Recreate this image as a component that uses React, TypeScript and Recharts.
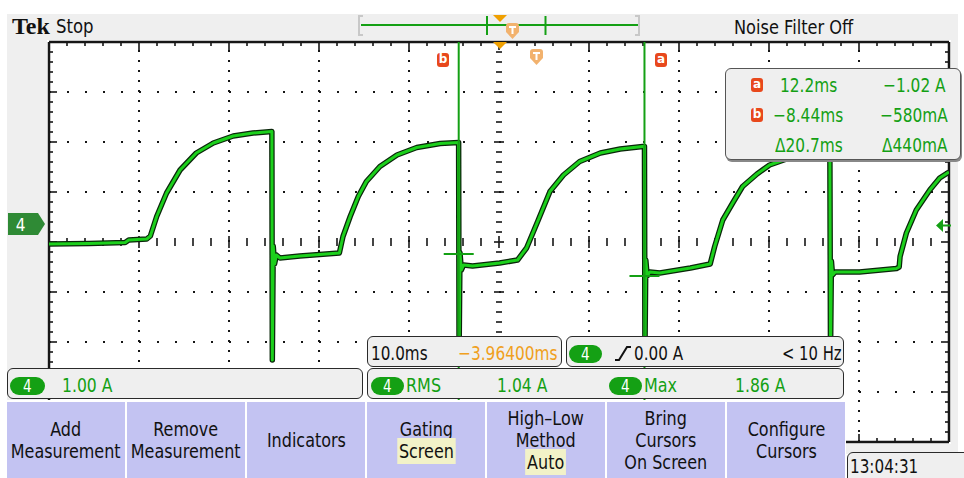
import React from 'react';
import { LineChart, Line, XAxis, YAxis, ReferenceLine } from 'recharts';

const FONT = "'DejaVu Sans', sans-serif";
const GREEN = '#14a014';
const TRACE = '#1cd01c';
const TRACE_EDGE = '#0a260a';
const INK = '#161616';
const PANEL = '#efefef';
const ORANGE = '#f0a000';
const PEACH = '#f2b26e';
const MARKER_RED = '#e8481c';
const MENU_BG = '#c3c3f2';

// scope settings
const MS_PER_DIV = 10;
const AMPS_PER_DIV = 1;
const H_POS_MS = -3.964; // time at screen centre, relative to trigger
const CH4_OFFSET_DIV = 0.34; // 0 A sits this far above the centre line
const H_DIVS = 10;
const V_DIVS = 8;
const SUB = 5;

// channel 4 trace: time (ms from trigger) and current (A)
const traceTime = [
  -53.96, -49.5, -45.5, -45.1, -43.1,
  -42.7, -42.0, -40.9, -39.4, -37.6, -35.7, -33.5, -31.3, -29.2,
  -29.15, -29.05, -28.9, -28.7, -28.3, -26.1, -21.7,
  -21.3, -20.5, -19.6, -18.7, -17.2, -15.3, -13.1, -10.5, -8.45,
  -8.4, -8.3, -8.15, -7.9, -6.9, -3.9, -1.9,
  -0.9, 0.4, 1.7, 3.2, 5.0, 7.3, 9.5, 12.0, 12.2,
  12.25, 12.35, 12.5, 12.8, 13.9, 17.3, 19.5,
  20.0, 20.9, 22.0, 23.1, 24.7, 26.1, 28.0, 30.0, 32.8,
  32.87, 32.97, 33.1, 33.4, 36.1, 40.2, 40.5,
  40.6, 41.3, 42.4, 43.9, 45.0, 46.04,
];
const traceAmps = [
  -0.38, -0.37, -0.35, -0.30, -0.28,
  -0.22, 0.17, 0.64, 1.10, 1.44, 1.64, 1.78, 1.84, 1.87,
  -2.70, -0.42, -0.78, -0.60, -0.66, -0.62, -0.56,
  -0.23, 0.17, 0.57, 0.87, 1.17, 1.40, 1.55, 1.63, 1.65,
  -2.60, -0.55, -0.90, -0.80, -0.82, -0.76, -0.70,
  -0.46, 0.10, 0.67, 1.00, 1.27, 1.44, 1.52, 1.57, 1.57,
  -2.60, -0.70, -1.02, -0.94, -0.96, -0.86, -0.78,
  -0.43, 0.10, 0.44, 0.77, 1.02, 1.20, 1.32, 1.40, 1.44,
  -2.60, -0.72, -1.00, -0.94, -0.94, -0.87, -0.84,
  -0.63, -0.16, 0.30, 0.70, 0.94, 1.06,
];

// waveform cursors
const cursorTimes = [12.2, -8.44];
const cursorAmps = [-1.02, -0.58];

// readouts
const readoutTimes = ['12.2ms', '−8.44ms', 'Δ20.7ms'];
const readoutAmps = ['−1.02 A', '−580mA', 'Δ440mA'];

const menuLabels = [
  ['Add', 'Measurement'],
  ['Remove', 'Measurement'],
  ['Indicators'],
  ['Gating'],
  ['High–Low', 'Method'],
  ['Bring', 'Cursors', 'On Screen'],
  ['Configure', 'Cursors'],
];
const menuValues = ['', '', '', 'Screen', 'Auto', '', ''];

const X_MIN = H_POS_MS - (H_DIVS / 2) * MS_PER_DIV;
const X_MAX = H_POS_MS + (H_DIVS / 2) * MS_PER_DIV;
const Y_HALF = V_DIVS / 2;
const PLOT_W = 900;
const PLOT_H = 400;
const MS_PER_PX = (H_DIVS * MS_PER_DIV) / PLOT_W;
const DIV_PER_PX = V_DIVS / PLOT_H;

const toDiv = (amps: number) => amps / AMPS_PER_DIV + CH4_OFFSET_DIV;
const chartData = traceTime.map((t, i) => ({ t, y: toDiv(traceAmps[i]) }));

const seg = (key: string, x1: number, y1: number, x2: number, y2: number, w = 1.6, color = INK) => (
  <ReferenceLine
    key={key}
    segment={[{ x: x1, y: y1 }, { x: x2, y: y2 }]}
    stroke={color}
    strokeWidth={w}
    ifOverflow="visible"
  />
);

function graticule() {
  const out: React.ReactNode[] = [];
  for (let i = 1; i < H_DIVS; i++) {
    if (i === H_DIVS / 2) continue;
    out.push(
      <ReferenceLine key={'gx' + i} x={X_MIN + i * MS_PER_DIV} stroke={INK} strokeWidth={2} strokeDasharray="2 8" ifOverflow="visible" />
    );
  }
  for (let j = 1; j < V_DIVS; j++) {
    if (j === V_DIVS / 2) continue;
    out.push(
      <ReferenceLine key={'gy' + j} y={-Y_HALF + j} stroke={INK} strokeWidth={2} strokeDasharray="2 16" ifOverflow="visible" />
    );
  }
  for (let k = 1; k < H_DIVS * SUB; k++) {
    const x = X_MIN + (k * MS_PER_DIV) / SUB;
    const major = k % SUB === 0;
    const l = (major ? 8 : 4) * DIV_PER_PX;
    const c = (major ? 6 : 4) * DIV_PER_PX;
    out.push(seg('tt' + k, x, Y_HALF, x, Y_HALF - l));
    out.push(seg('tb' + k, x, -Y_HALF, x, -Y_HALF + l));
    out.push(seg('tc' + k, x, -c, x, c));
  }
  for (let k = 1; k < V_DIVS * SUB; k++) {
    const y = -Y_HALF + k / SUB;
    const major = k % SUB === 0;
    const l = (major ? 8 : 4) * MS_PER_PX;
    const c = (major ? 5 : 3) * MS_PER_PX;
    out.push(seg('tl' + k, X_MIN, y, X_MIN + l, y));
    out.push(seg('tr' + k, X_MAX, y, X_MAX - l, y));
    out.push(seg('tm' + k, H_POS_MS - c, y, H_POS_MS + c, y));
  }
  out.push(<ReferenceLine key="bl" x={X_MIN} stroke={INK} strokeWidth={2.5} ifOverflow="visible" />);
  out.push(<ReferenceLine key="br" x={X_MAX} stroke={INK} strokeWidth={2.5} ifOverflow="visible" />);
  out.push(<ReferenceLine key="bt" y={Y_HALF} stroke={INK} strokeWidth={2.5} ifOverflow="visible" />);
  out.push(<ReferenceLine key="bb" y={-Y_HALF} stroke={INK} strokeWidth={2.5} ifOverflow="visible" />);
  return out;
}

function cursors() {
  const out: React.ReactNode[] = [];
  cursorTimes.forEach((t, i) => {
    out.push(<ReferenceLine key={'cv' + i} x={t} stroke={GREEN} strokeWidth={2} ifOverflow="visible" />);
    const half = 15 * MS_PER_PX;
    out.push(seg('ch' + i, t - half, toDiv(cursorAmps[i]), t + half, toDiv(cursorAmps[i]), 2, GREEN));
  });
  return out;
}

type TxtProps = {
  x: number;
  base: number;
  size?: number;
  color?: string;
  sx?: number;
  align?: 'left' | 'right' | 'center';
  weight?: number | string;
  family?: string;
  children: React.ReactNode;
};

const Txt = ({ x, base, size = 20, color = '#111', sx = 0.78, align = 'left', weight = 'normal', family = FONT, children }: TxtProps) => {
  const pos: React.CSSProperties = align === 'right' ? { right: 964 - x } : { left: x };
  const shift = align === 'center' ? 'translateX(-50%) ' : '';
  return (
    <div
      style={{
        position: 'absolute',
        top: base - 0.846 * size,
        ...pos,
        fontSize: size,
        lineHeight: 1,
        whiteSpace: 'nowrap',
        color,
        fontWeight: weight,
        fontFamily: family,
        transform: `${shift}scaleX(${sx})`,
        transformOrigin: align === 'right' ? 'right' : align === 'center' ? 'center' : 'left',
      }}
    >
      {children}
    </div>
  );
};

const Box = ({ x, y, w, h, radius = 6, children }: { x: number; y: number; w: number; h: number; radius?: number | string; children?: React.ReactNode }) => (
  <div
    style={{
      position: 'absolute',
      left: x,
      top: y,
      width: w,
      height: h,
      boxSizing: 'border-box',
      border: '1.5px solid #2a2a2a',
      borderRadius: radius,
      background: PANEL,
    }}
  >
    {children}
  </div>
);

const Pill = ({ x, y, w = 33, h = 18 }: { x: number; y: number; w?: number; h?: number }) => (
  <div
    style={{
      position: 'absolute',
      left: x,
      top: y,
      width: w,
      height: h,
      borderRadius: h / 2,
      background: GREEN,
      color: '#fff',
      fontSize: 17,
      lineHeight: `${h}px`,
      textAlign: 'center',
      fontFamily: FONT,
    }}
  >
    <span style={{ display: 'inline-block', transform: 'scaleX(0.8)' }}>4</span>
  </div>
);

const CursorTag = ({ x, y, letter }: { x: number; y: number; letter: string }) => (
  <div
    style={{
      position: 'absolute',
      left: x,
      top: y,
      width: 12,
      height: 14,
      borderRadius: 3,
      background: MARKER_RED,
      color: '#fff',
      fontSize: 12,
      fontWeight: 'bold',
      lineHeight: '13px',
      textAlign: 'center',
      fontFamily: FONT,
    }}
  >
    {letter}
  </div>
);

const TMarker = ({ x, y }: { x: number; y: number }) => (
  <svg style={{ position: 'absolute', left: x, top: y }} width={15} height={16}>
    <path d="M1 3 Q1 0 4 0 H11 Q14 0 14 3 V9 L7.5 16 L1 9 Z" fill={PEACH} />
    <rect x={4} y={3} width={7} height={2} fill="#fff" />
    <rect x={6.5} y={3} width={2} height={8} fill="#fff" />
  </svg>
);

const DownTri = ({ x, y }: { x: number; y: number }) => (
  <svg style={{ position: 'absolute', left: x, top: y }} width={14} height={8}>
    <polygon points="0,0 14,0 7,7" fill={ORANGE} />
  </svg>
);

export default function App() {
  return (
    <div
      style={{
        position: 'absolute',
        left: 0,
        top: 0,
        width: 964,
        height: 478,
        background: '#fff',
        overflow: 'hidden',
        fontFamily: FONT,
      }}
    >
      <div style={{ position: 'absolute', left: 7, top: 14, width: 951, height: 440, background: PANEL }} />

      {/* graticule + trace */}
      <div style={{ position: 'absolute', left: 47, top: 40, background: '#fff' }}>
        <LineChart width={904} height={404} data={chartData} margin={{ top: 2, right: 2, bottom: 2, left: 2 }}>
          <XAxis dataKey="t" type="number" domain={[X_MIN, X_MAX]} allowDataOverflow hide />
          <YAxis type="number" domain={[-Y_HALF, Y_HALF]} allowDataOverflow hide />
          {graticule()}
          <Line
            type="linear"
            dataKey="y"
            stroke={TRACE_EDGE}
            strokeWidth={5.5}
            strokeLinejoin="round"
            dot={false}
            activeDot={false}
            isAnimationActive={false}
          />
          <Line
            type="linear"
            dataKey="y"
            stroke={TRACE}
            strokeWidth={3}
            strokeLinejoin="round"
            dot={false}
            activeDot={false}
            isAnimationActive={false}
          />
          {cursors()}
        </LineChart>
      </div>

      {/* top bar */}
      <Txt x={12} base={34} size={24} sx={1} weight="bold" family="'Liberation Serif', serif" color="#111">
        Tek
      </Txt>
      <Txt x={56} base={33} size={19} sx={0.87}>
        Stop
      </Txt>
      <Txt x={734} base={33.5} size={20} sx={0.81}>
        Noise Filter Off
      </Txt>
      <svg style={{ position: 'absolute', left: 355, top: 14 }} width={290} height={24}>
        <path d="M8 2 H4 V21 H8" stroke="#c8c8c8" strokeWidth={2} fill="none" />
        <path d="M280 2 H284 V21 H280" stroke="#c8c8c8" strokeWidth={2} fill="none" />
        <line x1={6} y1={11} x2={283} y2={11} stroke={GREEN} strokeWidth={2} />
        <line x1={132} y1={2} x2={132} y2={21} stroke={GREEN} strokeWidth={2} />
        <line x1={190.5} y1={2} x2={190.5} y2={21} stroke={GREEN} strokeWidth={2} />
      </svg>
      <DownTri x={493} y={15} />
      <TMarker x={505} y={23} />

      {/* on-screen markers */}
      <DownTri x={493} y={42} />
      <TMarker x={529} y={49} />
      <CursorTag x={437} y={53} letter="b" />
      <CursorTag x={655} y={53} letter="a" />

      {/* channel 4 ground marker */}
      <svg style={{ position: 'absolute', left: 8, top: 213 }} width={38} height={22}>
        <polygon points="0,0 30,0 37,11 30,22 0,22" fill="#2f8a35" />
        <text x={9} y={18} fill="#fff" fontSize={18} fontFamily="DejaVu Sans" transform="scale(0.85,1)">
          4
        </text>
      </svg>
      {/* trigger level arrow */}
      <svg style={{ position: 'absolute', left: 936, top: 219 }} width={15} height={13}>
        <polygon points="0,6.5 7,0 7,13" fill={GREEN} />
        <rect x={6} y={5.5} width={9} height={2} fill={GREEN} />
      </svg>

      {/* cursor readout */}
      <div
        style={{
          position: 'absolute',
          left: 725,
          top: 68,
          width: 236,
          height: 92,
          boxSizing: 'border-box',
          border: '1.5px solid #555',
          borderRadius: 6,
          background: PANEL,
          boxShadow: '1px 2px 0 #888',
        }}
      />
      <CursorTag x={751} y={78} letter="a" />
      <CursorTag x={751} y={108} letter="b" />
      <Txt x={780} base={92} color={GREEN} sx={0.77}>
        {readoutTimes[0]}
      </Txt>
      <Txt x={773} base={122} color={GREEN} sx={0.77}>
        {readoutTimes[1]}
      </Txt>
      <Txt x={775} base={152} color={GREEN} sx={0.77}>
        {readoutTimes[2]}
      </Txt>
      <Txt x={883} base={92} color={GREEN} sx={0.77}>
        {readoutAmps[0]}
      </Txt>
      <Txt x={880} base={122} color={GREEN} sx={0.77}>
        {readoutAmps[1]}
      </Txt>
      <Txt x={882} base={152} color={GREEN} sx={0.77}>
        {readoutAmps[2]}
      </Txt>

      {/* info boxes */}
      <Box x={367} y={336} w={195} h={31} />
      <Txt x={371} base={360} sx={0.76}>
        10.0ms
      </Txt>
      <Txt x={458} base={360} color="#f0a020" sx={0.77}>
        −3.96400ms
      </Txt>

      <Box x={566} y={336} w={278} h={31} />
      <Pill x={569} y={345} />
      <svg style={{ position: 'absolute', left: 614, top: 345 }} width={18} height={16}>
        <path d="M1 15 H5 L13 2 H17" stroke="#111" strokeWidth={2} fill="none" />
      </svg>
      <Txt x={634} base={360} sx={0.76}>
        0.00 A
      </Txt>
      <Txt x={782} base={360} sx={0.74}>
        {'< 10 Hz'}
      </Txt>

      <Box x={7} y={368} w={356} h={31} />
      <Pill x={10} y={377} w={35} />
      <Txt x={62} base={392} color={GREEN} sx={0.78}>
        1.00 A
      </Txt>

      <Box x={367} y={368} w={477} h={31} />
      <Pill x={371} y={377} />
      <Txt x={406} base={392} color={GREEN} sx={0.8}>
        RMS
      </Txt>
      <Txt x={497} base={392} color={GREEN} sx={0.78}>
        1.04 A
      </Txt>
      <Pill x={609} y={377} />
      <Txt x={644} base={392} color={GREEN} sx={0.8}>
        Max
      </Txt>
      <Txt x={735} base={392} color={GREEN} sx={0.78}>
        1.86 A
      </Txt>

      {/* soft-key menu */}
      <div style={{ position: 'absolute', left: 0, top: 400, width: 846, height: 78, background: '#fff' }} />
      {menuLabels.map((lines, i) => (
        <div
          key={i}
          style={{
            position: 'absolute',
            left: 7 + i * 120,
            top: 402,
            width: 118,
            height: 76,
            background: MENU_BG,
            display: 'flex',
            alignItems: 'center',
            justifyContent: 'center',
          }}
        >
          <div
            style={{
              fontSize: 20,
              lineHeight: '22.3px',
              color: '#111',
              textAlign: 'center',
              whiteSpace: 'nowrap',
              transform: 'scaleX(0.8)',
            }}
          >
            {lines.map((l) => (
              <div key={l}>{l}</div>
            ))}
            {menuValues[i] && (
              <div>
                <span style={{ background: '#f2f2c8', padding: '1px 2px' }}>{menuValues[i]}</span>
              </div>
            )}
          </div>
        </div>
      ))}

      {/* clock */}
      <Box x={847} y={452} w={120} h={32} radius="6px 0 0 0" />
      <Txt x={850} base={473} size={19} sx={0.8}>
        13:04:31
      </Txt>
    </div>
  );
}
